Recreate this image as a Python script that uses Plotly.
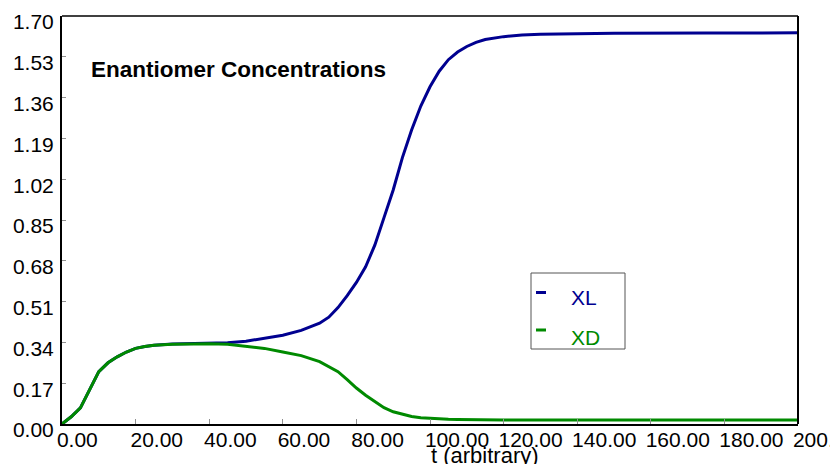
import plotly.graph_objects as go

t = [0, 2.5, 5, 7.5, 10, 12.5, 15, 17.5, 20, 22.5, 25, 30, 35, 40, 45, 50, 55, 60, 65, 70,
     72.5, 75, 77.5, 80, 82.5, 85, 87.5, 90, 92.5, 95, 97.5, 100, 102.5, 105, 107.5, 110,
     112.5, 115, 120, 125, 130, 140, 150, 175, 200]
xl = [0, 0.03, 0.067, 0.145, 0.218, 0.255, 0.28, 0.30, 0.315, 0.323, 0.328, 0.333, 0.335,
      0.336, 0.339, 0.345, 0.356, 0.37, 0.39, 0.42, 0.445, 0.485, 0.535, 0.59, 0.655, 0.745,
      0.86, 0.975, 1.11, 1.225, 1.325, 1.405, 1.47, 1.518, 1.55, 1.573, 1.59, 1.602, 1.614,
      1.621, 1.624, 1.627, 1.628, 1.629, 1.63]
xd = [0, 0.03, 0.067, 0.145, 0.218, 0.255, 0.28, 0.30, 0.315, 0.323, 0.328, 0.332, 0.334,
      0.334, 0.332, 0.325, 0.315, 0.30, 0.285, 0.26, 0.24, 0.218, 0.185, 0.15, 0.12, 0.093,
      0.068, 0.051, 0.04, 0.031, 0.026, 0.023, 0.021, 0.02, 0.019, 0.018, 0.018, 0.017,
      0.017, 0.017, 0.017, 0.017, 0.017, 0.017, 0.017]

y_ticks = [0.00, 0.17, 0.34, 0.51, 0.68, 0.85, 1.02, 1.19, 1.36, 1.53, 1.70]
x_ticks = [0, 20, 40, 60, 80, 100, 120, 140, 160, 180, 200]

series_names = ["XL", "XD"]
series_colors = ["#000090", "#008a00"]

title_text = "Enantiomer Concentrations"
x_title = "t (arbitrary)"

FONT = "Liberation Sans, Arial, sans-serif"

# x tick labels are left-aligned at their ticks in the reference: pad shorter
# labels on the right with no-break spaces so all have equal width.
NBSP = "\u00a0"
x_labels = [f"{v:.2f}" for v in x_ticks]
maxlen = max(len(s) for s in x_labels)
x_ticktext = [s + NBSP * (2 * (maxlen - len(s))) for s in x_labels]

fig = go.Figure()
fig.add_trace(go.Scatter(x=t, y=xl, mode="lines", name=series_names[0],
                         line=dict(color=series_colors[0], width=3)))
fig.add_trace(go.Scatter(x=t, y=xd, mode="lines", name=series_names[1],
                         line=dict(color=series_colors[1], width=3)))

L, R, T, B = 62, 32, 16, 40
W, H = 830, 464
pw, ph = W - L - R, H - T - B


def px(x):
    return (x - L) / pw


def py(y):
    return (H - B - y) / ph


fig.update_layout(
    width=W, height=H,
    margin=dict(l=L, r=R, t=T, b=B, pad=0, autoexpand=False),
    paper_bgcolor="white", plot_bgcolor="white",
    showlegend=False,
    font=dict(family=FONT, size=21, color="black"),
    xaxis=dict(range=[0, 200], tickvals=x_ticks, ticktext=x_ticktext,
               showgrid=False, zeroline=False, automargin=False,
               showline=True, linecolor="black", linewidth=2,
               ticks="inside", ticklen=5, tickcolor="#909090", tickwidth=1,
               tickfont=dict(family=FONT, size=21, color="black"),
               ticklabeloverflow="allow",
               ticklabelshift=27, ticklabelstandoff=-4),
    yaxis=dict(range=[0, 1.70], tickvals=y_ticks, tickformat=".2f",
               showgrid=False, zeroline=False, automargin=False,
               showline=True, linecolor="black", linewidth=2,
               ticks="inside", ticklen=4, tickcolor="#909090", tickwidth=1,
               tickfont=dict(family=FONT, size=21, color="black"),
               ticklabeloverflow="allow",
               ticklabelshift=6, ticklabelstandoff=2),
)

shapes = [
    dict(type="line", xref="paper", yref="paper", x0=0, x1=1, y0=1, y1=1,
         line=dict(color="black", width=1.5)),
    dict(type="line", xref="paper", yref="paper", x0=1, x1=1, y0=0, y1=1,
         line=dict(color="black", width=2)),
    # legend box
    dict(type="rect", xref="paper", yref="paper", x0=px(531), x1=px(625),
         y0=py(349), y1=py(273), line=dict(color="#555555", width=1), fillcolor="white"),
    dict(type="line", xref="paper", yref="paper", x0=px(536), x1=px(546),
         y0=py(292.5), y1=py(292.5), line=dict(color=series_colors[0], width=3)),
    dict(type="line", xref="paper", yref="paper", x0=px(536), x1=px(546),
         y0=py(330), y1=py(330), line=dict(color=series_colors[1], width=3)),
]
fig.update_layout(shapes=shapes)

annotations = [
    dict(text="<b>" + title_text + "</b>", xref="paper", yref="paper",
         x=px(89), y=py(70), xanchor="left", yanchor="middle", showarrow=False,
         font=dict(family=FONT, size=22.5, color="black")),
    dict(text=series_names[0], xref="paper", yref="paper",
         x=px(569), y=py(297), xanchor="left", yanchor="middle", showarrow=False,
         font=dict(family=FONT, size=21, color=series_colors[0])),
    dict(text=series_names[1], xref="paper", yref="paper",
         x=px(569), y=py(337), xanchor="left", yanchor="middle", showarrow=False,
         font=dict(family=FONT, size=21, color=series_colors[1])),
    dict(text=x_title, xref="paper", yref="paper",
         x=px(485), y=py(455), xanchor="center", yanchor="middle", showarrow=False,
         font=dict(family=FONT, size=22, color="black")),
]
fig.update_layout(annotations=annotations)

fig.write_html("out.html", config={"displayModeBar": False},
               post_script="document.body.style.margin='0';document.body.style.overflow='hidden';")
